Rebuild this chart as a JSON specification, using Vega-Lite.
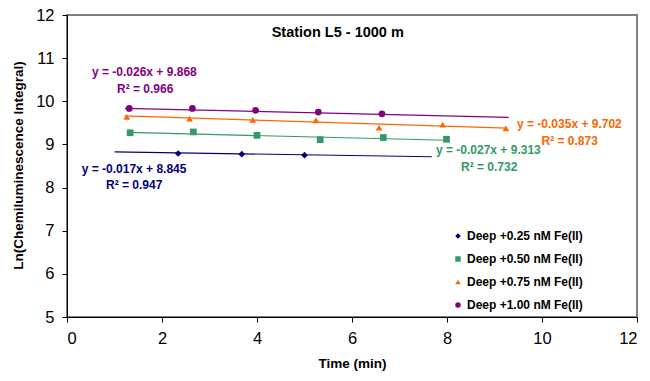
{
  "$schema": "https://vega.github.io/schema/vega-lite/v6.json",
  "width": 570,
  "height": 302,
  "autosize": {"type": "none"},
  "padding": {"left": 67, "top": 15, "right": 13, "bottom": 64},
  "background": "white",
  "config": {
    "view": {"stroke": "#808080", "strokeWidth": 2},
    "font": "Liberation Sans",
    "axis": {"grid": false, "domainColor": "#000000", "domainWidth": 1, "tickColor": "#000000", "tickSize": 5, "labelFont": "Liberation Sans", "labelFontSize": 16.5, "labelColor": "#000000", "titleFont": "Liberation Sans", "titleFontSize": 13.5, "titleFontWeight": "bold", "titleColor": "#000000"}
  },
  "resolve": {"legend": {"color": "independent", "shape": "independent"}},
  "datasets": {
    "points": [
      {"series": "Deep +0.25 nM Fe(II)", "time": 2.34, "ln": 8.79},
      {"series": "Deep +0.25 nM Fe(II)", "time": 3.68, "ln": 8.775},
      {"series": "Deep +0.25 nM Fe(II)", "time": 5.0, "ln": 8.75},
      {"series": "Deep +0.50 nM Fe(II)", "time": 1.33, "ln": 9.27},
      {"series": "Deep +0.50 nM Fe(II)", "time": 2.66, "ln": 9.29},
      {"series": "Deep +0.50 nM Fe(II)", "time": 4.0, "ln": 9.21},
      {"series": "Deep +0.50 nM Fe(II)", "time": 5.33, "ln": 9.11},
      {"series": "Deep +0.50 nM Fe(II)", "time": 6.66, "ln": 9.16},
      {"series": "Deep +0.50 nM Fe(II)", "time": 7.99, "ln": 9.12},
      {"series": "Deep +0.75 nM Fe(II)", "time": 1.26, "ln": 9.64},
      {"series": "Deep +0.75 nM Fe(II)", "time": 2.58, "ln": 9.6},
      {"series": "Deep +0.75 nM Fe(II)", "time": 3.91, "ln": 9.57},
      {"series": "Deep +0.75 nM Fe(II)", "time": 5.24, "ln": 9.56},
      {"series": "Deep +0.75 nM Fe(II)", "time": 6.57, "ln": 9.39},
      {"series": "Deep +0.75 nM Fe(II)", "time": 7.91, "ln": 9.46},
      {"series": "Deep +0.75 nM Fe(II)", "time": 9.24, "ln": 9.37},
      {"series": "Deep +1.00 nM Fe(II)", "time": 1.31, "ln": 9.835},
      {"series": "Deep +1.00 nM Fe(II)", "time": 2.64, "ln": 9.835},
      {"series": "Deep +1.00 nM Fe(II)", "time": 3.97, "ln": 9.79},
      {"series": "Deep +1.00 nM Fe(II)", "time": 5.29, "ln": 9.75},
      {"series": "Deep +1.00 nM Fe(II)", "time": 6.63, "ln": 9.71}
    ],
    "fits": [
      {"series": "Deep +0.25 nM Fe(II)", "time": 1.0, "ln": 8.828},
      {"series": "Deep +0.25 nM Fe(II)", "time": 7.68, "ln": 8.714},
      {"series": "Deep +0.50 nM Fe(II)", "time": 1.3, "ln": 9.278},
      {"series": "Deep +0.50 nM Fe(II)", "time": 8.0, "ln": 9.097},
      {"series": "Deep +0.75 nM Fe(II)", "time": 1.21, "ln": 9.66},
      {"series": "Deep +0.75 nM Fe(II)", "time": 9.26, "ln": 9.378},
      {"series": "Deep +1.00 nM Fe(II)", "time": 1.22, "ln": 9.836},
      {"series": "Deep +1.00 nM Fe(II)", "time": 9.3, "ln": 9.626}
    ],
    "labels": [
      {"series": "Deep +1.00 nM Fe(II)", "time": 0.526, "ln": 10.685, "text": "y = -0.026x + 9.868"},
      {"series": "Deep +1.00 nM Fe(II)", "time": 1.053, "ln": 10.283, "text": "R² = 0.966"},
      {"series": "Deep +0.75 nM Fe(II)", "time": 9.474, "ln": 9.471, "text": "y = -0.035x + 9.702"},
      {"series": "Deep +0.75 nM Fe(II)", "time": 9.99, "ln": 9.077, "text": "R² = 0.873"},
      {"series": "Deep +0.50 nM Fe(II)", "time": 7.768, "ln": 8.868, "text": "y = -0.027x + 9.313"},
      {"series": "Deep +0.50 nM Fe(II)", "time": 8.295, "ln": 8.473, "text": "R² = 0.732"},
      {"series": "Deep +0.25 nM Fe(II)", "time": 0.309, "ln": 8.42, "text": "y = -0.017x + 8.845"},
      {"series": "Deep +0.25 nM Fe(II)", "time": 0.821, "ln": 8.056, "text": "R² = 0.947"}
    ],
    "title": [
      {"time": 5.7, "ln": 11.58, "text": "Station L5 - 1000 m"}
    ]
  },
  "encoding": {
    "x": {"field": "time", "type": "quantitative", "scale": {"domain": [0, 12], "nice": false}, "axis": {"values": [0, 2, 4, 6, 8, 10, 12], "title": "Time (min)", "labelPadding": 8, "titleX": 285, "titleY": 46, "titleBaseline": "middle", "titleAlign": "center"}},
    "y": {"field": "ln", "type": "quantitative", "scale": {"domain": [5, 12], "nice": false, "zero": false}, "axis": {"values": [5, 6, 7, 8, 9, 10, 11, 12], "title": "Ln(Chemiluminescence Integral)", "labelPadding": 8, "titleX": -49, "titleY": 150, "titleAngle": -90, "titleBaseline": "middle", "titleAlign": "center"}}
  },
  "layer": [
    {
      "data": {"name": "fits"},
      "mark": {"type": "line", "strokeWidth": 1.2},
      "encoding": {
        "color": {"field": "series", "type": "nominal", "scale": {"domain": ["Deep +0.25 nM Fe(II)", "Deep +0.50 nM Fe(II)", "Deep +0.75 nM Fe(II)", "Deep +1.00 nM Fe(II)"], "range": ["#000080", "#339966", "#FF6600", "#800080"]}, "legend": null},
        "detail": {"field": "series"}
      }
    },
    {
      "data": {"name": "points"},
      "mark": {"type": "point", "filled": true, "size": 45, "opacity": 1},
      "encoding": {
        "color": {"field": "series", "type": "nominal",
          "legend": {"title": null, "orient": "none", "legendX": 385, "legendY": 215, "padding": 0, "rowPadding": 11, "symbolSize": 30, "labelFont": "Liberation Sans", "labelFontSize": 12, "labelFontWeight": "bold", "labelColor": "#000000", "labelOffset": 3, "symbolOpacity": 1}},
        "shape": {"field": "series", "type": "nominal", "scale": {"domain": ["Deep +0.25 nM Fe(II)", "Deep +0.50 nM Fe(II)", "Deep +0.75 nM Fe(II)", "Deep +1.00 nM Fe(II)"], "range": ["diamond", "square", "triangle-up", "circle"]},
          "legend": {"title": null, "orient": "none", "legendX": 385, "legendY": 215, "padding": 0, "rowPadding": 11, "symbolSize": 30, "labelFont": "Liberation Sans", "labelFontSize": 12, "labelFontWeight": "bold", "labelColor": "#000000", "labelOffset": 3, "symbolOpacity": 1}}
      }
    },
    {
      "data": {"name": "labels"},
      "mark": {"type": "text", "align": "left", "baseline": "middle", "font": "Liberation Sans", "fontSize": 12, "fontWeight": "bold"},
      "encoding": {
        "text": {"field": "text"},
        "color": {"field": "series", "type": "nominal", "legend": null}
      }
    },
    {
      "data": {"name": "title"},
      "mark": {"type": "text", "align": "center", "baseline": "middle", "font": "Liberation Sans", "fontSize": 14.5, "fontWeight": "bold", "color": "#000000"},
      "encoding": {"text": {"field": "text"}}
    }
  ]
}
